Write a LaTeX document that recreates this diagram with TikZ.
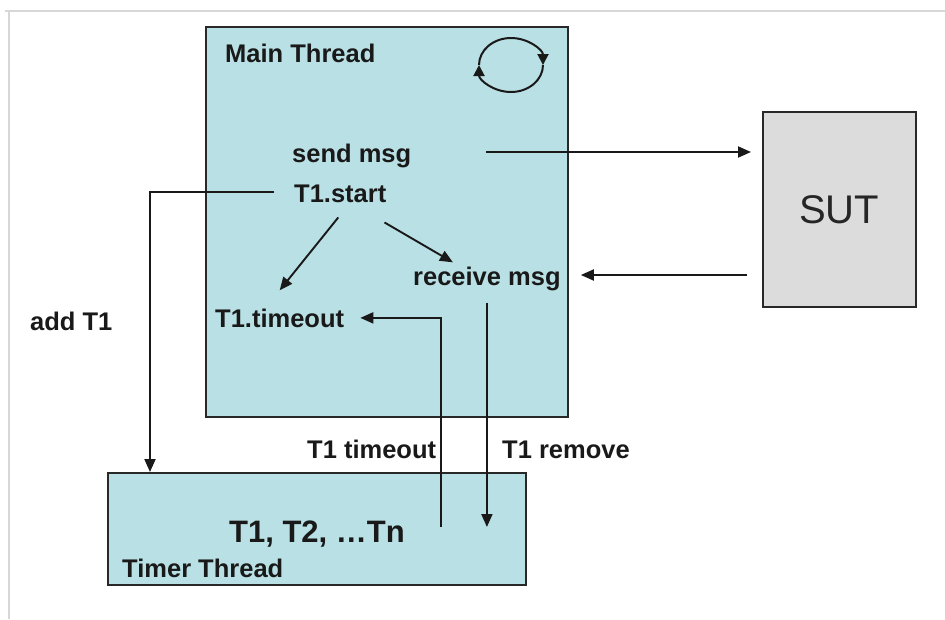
\documentclass[tikz,border=0pt]{standalone}
\usepackage{fontspec}
\setmainfont{Liberation Sans}
\usetikzlibrary{arrows.meta}
\definecolor{mainc}{RGB}{185,224,228}
\definecolor{sutc}{RGB}{220,220,220}
\definecolor{framec}{RGB}{215,215,215}
\definecolor{edgec}{RGB}{40,40,40}
\begin{document}
\begin{tikzpicture}[x=1pt,y=-1pt,
  lbl/.style={font=\bfseries\fontsize{25.5}{28}\selectfont, inner sep=0pt, anchor=base west, text=black!90},
  boxstyle/.style={draw=edgec, line width=2.2pt, inner sep=0pt, anchor=north west},
  conn/.style={line width=1.9pt, draw=black!90, -{Triangle[length=13pt,width=11pt]}},
  loopc/.style={line width=2pt, draw=black!90, -{Triangle[length=11pt,width=11pt]}}]
\useasboundingbox (0,0) rectangle (945,619);
% outer frame
\draw[framec, line width=1.5pt] (5,11) -- (945,11);
\draw[framec, line width=1.5pt] (9,11) -- (9,619);
% boxes
\node[boxstyle, fill=mainc, minimum width=362pt, minimum height=390pt] (main) at (205,26) {};
\node[boxstyle, fill=sutc, minimum width=153pt, minimum height=195pt] (sutbox) at (762,111) {};
\node[boxstyle, fill=mainc, minimum width=418pt, minimum height=112pt] (timer) at (107,472) {};
% texts
\node[lbl] (mt) at (225,62) {Main Thread};
\node[lbl] (send) at (292,162) {send msg};
\node[lbl] (start) at (294,202) {T1.start};
\node[lbl] (recv) at (413,285) {receive msg};
\node[lbl] (tout) at (215,327) {T1.timeout};
\node[lbl] (add) at (30,330) {add T1};
\node[lbl] (ltout) at (307,458) {T1 timeout};
\node[lbl] (lrem) at (502,458) {T1 remove};
\node[lbl, font=\bfseries\fontsize{31}{34}\selectfont, anchor=base] (tlist) at (317,542) {T1, T2, \ldots Tn};
\node[lbl] (tt) at (122,577) {Timer Thread};
\node[inner sep=0pt, anchor=base, font=\fontsize{40}{44}\selectfont, text=black!85] (sut) at (839,223) {SUT};
% loop symbol
\coordinate (loopc) at (511,65);
\draw[loopc] ([xshift=-32pt]loopc) arc[start angle=180, end angle=0, x radius=32pt, y radius=27pt];
\draw[loopc] ([xshift=32pt]loopc) arc[start angle=0, end angle=-180, x radius=32pt, y radius=27pt];
% connectors
\coordinate (sendout) at (486,152);
\draw[conn] (sendout) -- ([xshift=-11pt]sutbox.west |- sendout);
\coordinate (sutret) at (747,275);
\draw[conn] (sutret) -- ([xshift=20pt]recv.east |- sutret);
\draw[conn] ([xshift=-20pt,yshift=1pt]start.west) -| ([xshift=43pt]timer.north west);
\draw[conn] ([shift={(-2pt,-15pt)}]start.south) -- ([yshift=18pt]tout.north);
\draw[conn] ([shift={(-2pt,-20pt)}]start.south east) -- ([shift={(-34pt,4pt)}]recv.north);
\coordinate (tmo) at (441,527);
\draw[conn] (tmo) |- ([xshift=16pt]tout.east);
\draw[conn] ([yshift=-12pt]recv.south) -- (recv.south |- tmo);
\end{tikzpicture}
\end{document}
